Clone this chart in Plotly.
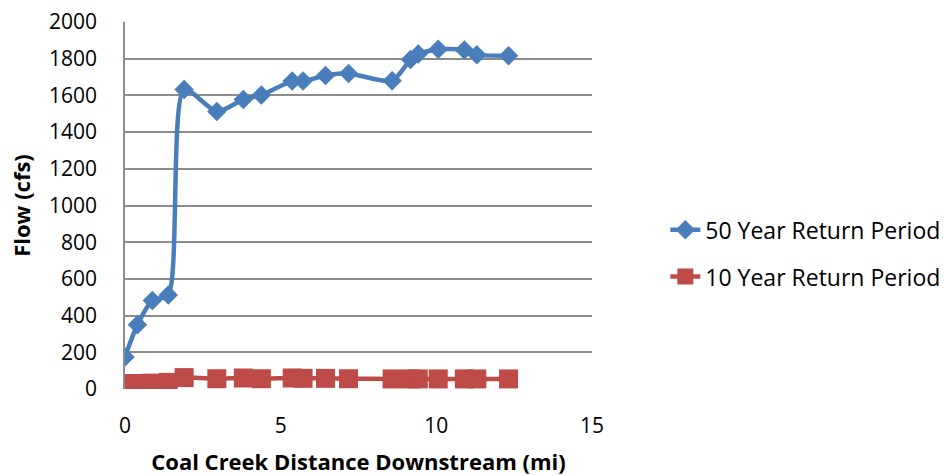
import plotly.graph_objects as go

# Distance downstream along Coal Creek (mi)
distance_mi = [0.0, 0.4, 0.88, 1.39, 1.9, 2.95, 3.8, 4.38, 5.37, 5.72, 6.44,
               7.18, 8.58, 9.17, 9.42, 10.06, 10.9, 11.3, 12.32]

# Peak flows (cfs)
flow_50yr = [175, 350, 482, 512, 1632, 1512, 1578, 1602, 1678, 1678, 1708,
             1720, 1680, 1795, 1825, 1852, 1847, 1822, 1816]
flow_10yr = [30, 30, 32, 36, 62, 56, 60, 56, 60, 58, 58,
             56, 55, 55, 55, 55, 55, 55, 55]

series_names = ["50 Year Return Period", "10 Year Return Period"]

BLUE = "#4A7EBB"
RED = "#BE4B48"
FONT = "Open Sans"

fig = go.Figure()
fig.add_trace(go.Scatter(
    x=distance_mi, y=flow_50yr, name=series_names[0], legendgroup="g50",
    mode="lines+markers",
    line=dict(color=BLUE, width=4.5, shape="spline", smoothing=0.7),
    marker=dict(symbol="diamond", size=15, color=BLUE),
))
fig.add_trace(go.Scatter(
    x=distance_mi, y=flow_10yr, name=series_names[1], legendgroup="g10",
    mode="lines+markers",
    line=dict(color=RED, width=4.5, shape="spline", smoothing=0.7),
    marker=dict(symbol="square", size=19, color=RED),
))

fig.update_layout(
    width=944, height=476,
    margin=dict(l=125, r=352, t=22, b=87, autoexpand=False),
    paper_bgcolor="white", plot_bgcolor="white",
    font=dict(family=FONT, size=21, color="black"),
    legend=dict(
        x=1.157, y=0.37, xanchor="left", yanchor="middle",
        font=dict(family=FONT, size=23, color="black"),
        tracegroupgap=14, itemsizing="trace",
    ),
    xaxis=dict(
        range=[0, 15], dtick=5, tick0=0, automargin=False,
        showgrid=False, zeroline=False, showline=False,
        ticks="", ticklabelstandoff=22,
        tickfont=dict(family=FONT, size=21),
        title=dict(text="<b>Coal Creek Distance Downstream (mi)</b>",
                   font=dict(family=FONT, size=22), standoff=16),
    ),
    yaxis=dict(
        range=[0, 2000], dtick=200, tick0=0, automargin=False,
        showgrid=True, gridcolor="#8C8C8C", gridwidth=1.5,
        zeroline=False,
        showline=True, linecolor="#8C8C8C", linewidth=1.5,
        ticks="", ticklabelstandoff=22,
        tickfont=dict(family=FONT, size=21),
        title=dict(text="<b>Flow (cfs)</b>",
                   font=dict(family=FONT, size=22), standoff=12),
    ),
)

fig.write_html("out.html")
